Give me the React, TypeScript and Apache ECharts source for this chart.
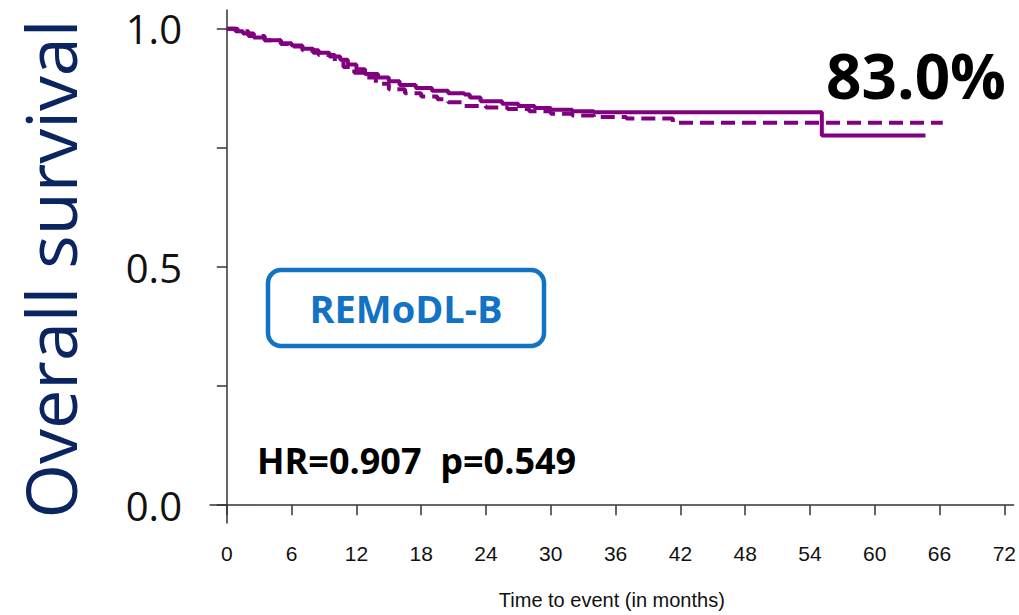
import React, { useEffect, useRef } from "react";
import * as echarts from "echarts";

// Kaplan–Meier step data (months, survival)
const solidTimes = [0, 0.8, 1.5, 2.5, 3.5, 5, 6, 7, 8, 9.5, 10.5, 11.2, 12, 12.8, 14, 15, 16, 17.5, 19, 20.5, 22, 22.5, 23.5, 25.5, 27, 28.5, 30, 32, 34, 55.1, 64.7];
const solidSurv = [1, 0.995, 0.99, 0.982, 0.976, 0.97, 0.965, 0.958, 0.95, 0.942, 0.935, 0.925, 0.915, 0.905, 0.898, 0.89, 0.882, 0.876, 0.87, 0.865, 0.862, 0.856, 0.848, 0.843, 0.838, 0.834, 0.83, 0.827, 0.825, 0.776, 0.776];
const dashedTimes = [0, 1, 2, 3.5, 5, 6, 7, 8.5, 10, 10.8, 11.8, 12.8, 13.8, 15, 16.5, 18, 19.5, 20.5, 22, 24, 26, 28, 30, 32, 34, 37, 41.3, 66.3];
const dashedSurv = [1, 0.995, 0.985, 0.976, 0.968, 0.963, 0.955, 0.945, 0.932, 0.92, 0.908, 0.898, 0.885, 0.873, 0.865, 0.858, 0.852, 0.846, 0.838, 0.835, 0.832, 0.827, 0.822, 0.818, 0.815, 0.812, 0.803, 0.803];

const xTickValues = [0, 6, 12, 18, 24, 30, 36, 42, 48, 54, 60, 66, 72];
const yTickValues = [0, 0.25, 0.5, 0.75, 1];
const yLabelValues = [0, 0.5, 1];

const yTitle = "Overall survival";
const xTitle = "Time to event (in months)";
const survivalLabel = "83.0%";
const statsLabel = "HR=0.907  p=0.549";
const trialLabel = "REMoDL-B";

const purple = "#800080";
const narrowFont = "'Liberation Sans Narrow', 'Liberation Sans', Arial";

export default function App() {
  const ref = useRef<HTMLDivElement>(null);

  useEffect(() => {
    if (!ref.current) return;
    const chart = echarts.init(ref.current, null, { renderer: "svg" });
    const solidData = solidTimes.map((t, i) => [t, solidSurv[i]]);
    const dashedData = dashedTimes.map((t, i) => [t, dashedSurv[i]]);

    chart.setOption({
      animation: false,
      backgroundColor: "#ffffff",
      grid: { left: 210, right: 0, top: 10, bottom: 88, containLabel: false },
      xAxis: {
        type: "value",
        min: -1.56,
        max: 72.86,
        name: xTitle,
        nameLocation: "middle",
        nameGap: 67,
        nameTextStyle: { fontFamily: narrowFont, fontSize: 20, color: "#111" },
        axisLine: { show: true, lineStyle: { color: "#333", width: 1.5 } },
        axisTick: {
          show: true,
          inside: false,
          length: 10,
          customValues: xTickValues,
          lineStyle: { color: "#333", width: 1.5 },
        },
        axisLabel: {
          customValues: xTickValues,
          margin: 20,
          fontFamily: narrowFont,
          fontSize: 21,
          color: "#111",
        },
        splitLine: { show: false },
      },
      yAxis: {
        type: "value",
        min: -0.0375,
        max: 1.0396,
        axisLine: { show: true, lineStyle: { color: "#333", width: 1.5 } },
        axisTick: {
          show: true,
          inside: false,
          length: 10,
          customValues: yTickValues,
          lineStyle: { color: "#333", width: 1.5 },
        },
        axisLabel: {
          customValues: yLabelValues,
          formatter: (v: number) => v.toFixed(1),
          margin: 28,
          fontFamily: "'Open Sans', 'Noto Sans', sans-serif",
          fontSize: 40,
          color: "#111",
        },
        splitLine: { show: false },
      },
      series: [
        {
          type: "line",
          step: "end",
          data: solidData,
          showSymbol: false,
          symbol: "none",
          lineStyle: { color: purple, width: 4, type: "solid" },
          z: 3,
        },
        {
          type: "line",
          step: "end",
          data: dashedData,
          showSymbol: false,
          symbol: "none",
          lineStyle: { color: purple, width: 4, type: [14, 7] },
          z: 2,
        },
      ],
      graphic: [
        {
          type: "text",
          x: 50,
          y: 269,
          rotation: Math.PI / 2,
          style: {
            text: yTitle,
            font: "70px 'Open Sans', 'Noto Sans', sans-serif",
            fill: "#0a2560",
            align: "center",
            verticalAlign: "middle",
          },
        },
        {
          type: "text",
          x: 916,
          y: 75,
          style: {
            text: survivalLabel,
            font: "bold 62px 'Open Sans', 'Noto Sans', sans-serif",
            fill: "#000",
            align: "center",
            verticalAlign: "middle",
          },
        },
        {
          type: "text",
          x: 257,
          y: 460,
          style: {
            text: statsLabel,
            font: "bold 36px 'Open Sans', 'Noto Sans', sans-serif",
            fill: "#000",
            align: "left",
            verticalAlign: "middle",
          },
        },
        {
          type: "rect",
          shape: { x: 268, y: 270, width: 276, height: 76, r: 13 },
          style: { fill: "#fff", stroke: "#1272c4", lineWidth: 4.5 },
        },
        {
          type: "text",
          x: 406,
          y: 308,
          style: {
            text: trialLabel,
            font: "bold 38px 'Open Sans', 'Noto Sans', sans-serif",
            fill: "#1272c4",
            align: "center",
            verticalAlign: "middle",
          },
        },
      ],
    });
    return () => chart.dispose();
  }, []);

  return (
    <div
      ref={ref}
      style={{ position: "fixed", left: 0, top: 0, width: 1019, height: 615 }}
    />
  );
}
